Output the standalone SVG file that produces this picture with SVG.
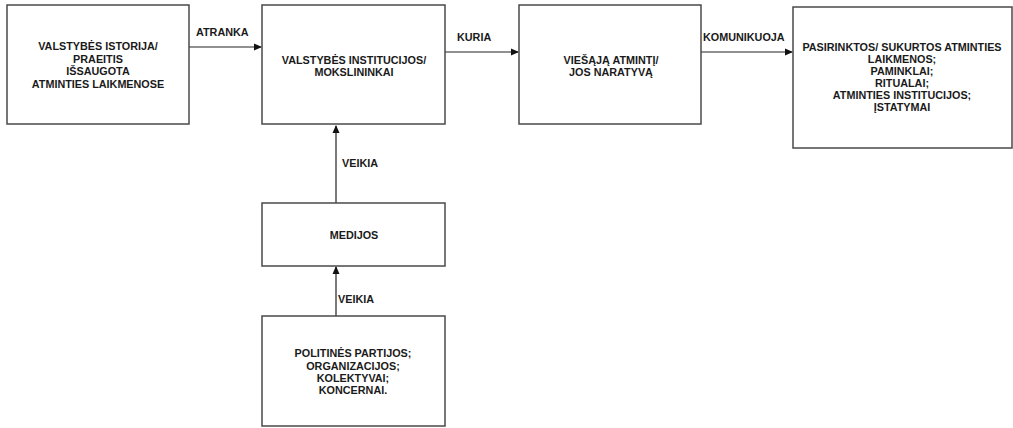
<svg xmlns="http://www.w3.org/2000/svg" width="1013" height="428" viewBox="0 0 1013 428">
<style>
.box{fill:#fff;stroke:#4a4a4a;stroke-width:1.5}
.t{font-family:"Liberation Sans",Arial,sans-serif;font-size:10.8px;font-weight:bold;fill:#1a1a1a;text-anchor:middle}
.l{font-family:"Liberation Sans",Arial,sans-serif;font-size:10.8px;font-weight:bold;fill:#1a1a1a}
.c{stroke:#222;stroke-width:1.2;fill:none;marker-end:url(#ah)}
</style>
<defs>
<marker id="ah" markerWidth="8" markerHeight="8" refX="7" refY="4" orient="auto" markerUnits="userSpaceOnUse">
<path d="M0,0.5 L8,4 L0,7.5 Z" fill="#111"/>
</marker>
</defs>
<rect width="1013" height="428" fill="#fff"/>
<g id="connectors">
<line class="c" x1="189" y1="47" x2="261" y2="47"/>
<line class="c" x1="445" y1="52" x2="518" y2="52"/>
<line class="c" x1="701" y1="52" x2="792" y2="52"/>
<line class="c" x1="336" y1="203" x2="336" y2="126"/>
<line class="c" x1="336" y1="316" x2="336" y2="267"/>
<text class="l" x="196" y="36">ATRANKA</text>
<text class="l" x="457" y="41">KURIA</text>
<text class="l" x="703" y="41">KOMUNIKUOJA</text>
<text class="l" x="342" y="167">VEIKIA</text>
<text class="l" x="338" y="303">VEIKIA</text>
</g>
<g id="n1">
<rect class="box" x="7" y="5" width="182" height="119"/>
<text class="t" x="98" y="50">VALSTYBĖS ISTORIJA/</text>
<text class="t" x="98" y="62.5">PRAEITIS</text>
<text class="t" x="98" y="75">IŠSAUGOTA</text>
<text class="t" x="98" y="87.5">ATMINTIES LAIKMENOSE</text>
</g>
<g id="n2">
<rect class="box" x="262" y="5" width="183" height="119"/>
<text class="t" x="354" y="64">VALSTYBĖS INSTITUCIJOS/</text>
<text class="t" x="354" y="76">MOKSLININKAI</text>
</g>
<g id="n3">
<rect class="box" x="519" y="5" width="182" height="119"/>
<text class="t" x="611" y="64">VIEŠĄJĄ ATMINTĮ/</text>
<text class="t" x="611" y="76">JOS NARATYVĄ</text>
</g>
<g id="n4">
<rect class="box" x="793" y="7" width="219" height="141"/>
<text class="t" x="902" y="50.5">PASIRINKTOS/ SUKURTOS ATMINTIES</text>
<text class="t" x="902" y="62.5">LAIKMENOS;</text>
<text class="t" x="902" y="74.5">PAMINKLAI;</text>
<text class="t" x="902" y="86.5">RITUALAI;</text>
<text class="t" x="902" y="98.5">ATMINTIES INSTITUCIJOS;</text>
<text class="t" x="902" y="110.5">ĮSTATYMAI</text>
</g>
<g id="n5">
<rect class="box" x="262" y="203" width="183" height="63"/>
<text class="t" x="354" y="239">MEDIJOS</text>
</g>
<g id="n6">
<rect class="box" x="262" y="316" width="183" height="110"/>
<text class="t" x="353" y="357">POLITINĖS PARTIJOS;</text>
<text class="t" x="353" y="369.5">ORGANIZACIJOS;</text>
<text class="t" x="353" y="381.5">KOLEKTYVAI;</text>
<text class="t" x="353" y="393.5">KONCERNAI.</text>
</g>
</svg>
